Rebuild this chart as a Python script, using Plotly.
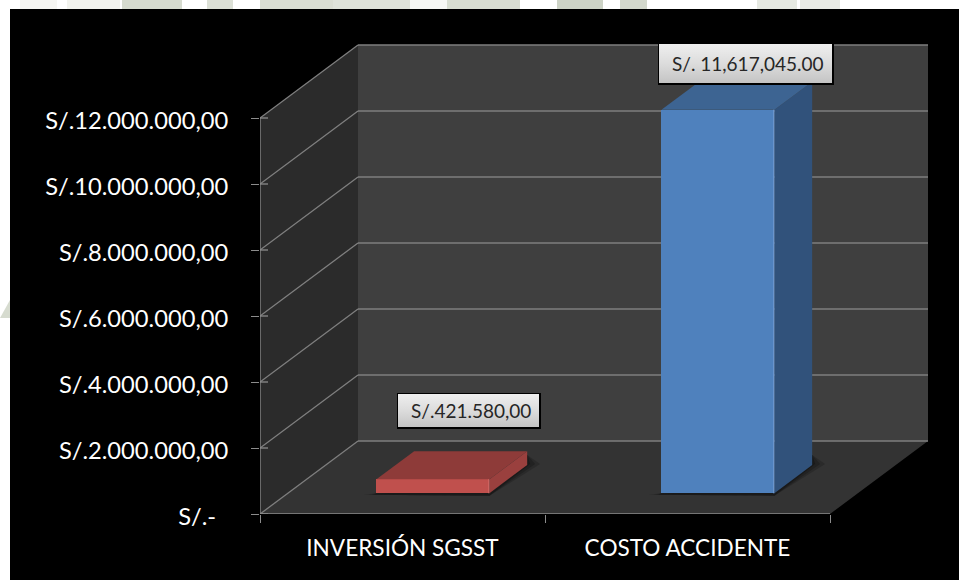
import plotly.graph_objects as go

# ---- data ----
categories = ["INVERSIÓN SGSST", "COSTO ACCIDENTE"]
values = [421580, 11617045]
value_labels = ["S/.421.580,00", "S/. 11,617,045.00"]
y_ticks = [0, 2e6, 4e6, 6e6, 8e6, 10e6, 12e6]
y_tick_labels = ["S/.-\u00a0\u00a0", "S/.2.000.000,00", "S/.4.000.000,00", "S/.6.000.000,00",
                 "S/.8.000.000,00", "S/.10.000.000,00", "S/.12.000.000,00"]
front_colors = ["#C0504D", "#4F81BD"]
side_colors = ["#9A403E", "#31527B"]
top_colors = ["#8E3B39", "#3D6492"]
edge_colors = ["#CC6360", "#6A95CC"]

# ---- geometry in data units ----
W, H = 959, 580
PX, PY = 285.0, 33.0 / 1e6      # px per category, px per value
L, B, T = 260, 514, 9
XMAX = (W - L) / PX
YMAX = (B - T) / PY
DX, DY = 98 / PX, 73 / PY       # wall depth
OFF = 0.285                     # bar front position within depth
BAR_D = 0.385                   # bar depth, fraction of wall depth
BAR_W = 113 / PX
BAR_SHIFT = 2.5 / PX

def xv(p): return (p - L) / PX
def yv(p): return (B - p) / PY
def xp(p): return (p - L) / (W - L)
def yp(p): return (B - p) / (B - T)

def poly(xs, ys, color):
    return go.Scatter(x=xs, y=ys, mode="lines", fill="toself", fillcolor=color,
                      line=dict(width=0), hoverinfo="skip", showlegend=False)

def path_shape(xs, ys, color):
    d = "M " + " L ".join(f"{a},{b}" for a, b in zip(xs, ys)) + " Z"
    return dict(type="path", xref="x", yref="y", path=d, fillcolor=color, line_width=0, layer="below")

def line_shape(a, b, c, d, color, width):
    return dict(type="line", xref="x", yref="y", x0=a, y0=b, x1=c, y1=d,
                line=dict(color=color, width=width), layer="below")

shapes = []
# white margin with pale watermark fragments, then black chart area
wm_top = [(20, 57, "#F6F6F3"), (67, 120, "#F2F3EE"), (122, 182, "#D6DBCF"), (207, 233, "#DCE0D6"),
          (260, 333, "#DADED3"), (333, 410, "#DFE3DA"), (410, 447, "#F6F7F4"), (447, 520, "#D8DDD1"),
          (557, 603, "#CDD3C6"), (620, 647, "#D3D8CC"), (757, 797, "#E6E9E2"), (800, 840, "#E8EAE4")]
for a, b, col in wm_top:
    shapes.append(dict(type="rect", xref="paper", yref="paper", x0=xp(a), x1=xp(b), y0=yp(T), y1=yp(0),
                       fillcolor=col, line_width=0, layer="below"))
shapes.append(dict(type="path", xref="paper", yref="paper",
                   path=f"M {xp(0)},{yp(318)} L {xp(10)},{yp(300)} L {xp(10)},{yp(318)} Z",
                   fillcolor="#D6DBCF", line_width=0, layer="below"))
shapes.append(dict(type="rect", xref="paper", yref="paper", x0=xp(10), x1=xp(W), y0=yp(H), y1=yp(T),
                   fillcolor="#000000", line_width=0, layer="below"))

# walls and floor
shapes.append(path_shape([0, DX, DX, 0], [0, DY, 12e6 + DY, 12e6], "#2B2B2B"))
shapes.append(path_shape([DX, 2 + DX, 2 + DX, DX], [DY, DY, 12e6 + DY, 12e6 + DY], "#3F3F3F"))
shapes.append(path_shape([0, 2, 2 + DX, DX], [0, 0, DY, DY], "#333333"))
# gridlines
for v in y_ticks:
    shapes.append(line_shape(0, v, DX, v + DY, "#7F7F7F", 1.3))
    shapes.append(line_shape(DX, v + DY, 2 + DX, v + DY, "#7F7F7F", 1.5))
    shapes.append(line_shape(0, v, 8 / PX, v, "#8C8C8C", 1.3))
# axis lines
shapes.append(line_shape(0, 0, 0, 12e6, "#8C8C8C", 1.3))
shapes.append(line_shape(0, 0, 2, 0, "#8C8C8C", 1.6))

# bars
cx = [0.5 + OFF * DX + BAR_SHIFT, 1.5 + OFF * DX + BAR_SHIFT]
x0 = [c - BAR_W / 2 for c in cx]
x1 = [c + BAR_W / 2 for c in cx]
by = OFF * DY
bdx, bdy = BAR_D * DX, BAR_D * DY
# soft floor shadows
for i in range(2):
    for grow, alpha in ((13, 0.22), (8, 0.3), (3, 0.4)):
        shapes.append(path_shape(
            [x0[i] - grow / PX, x1[i], x1[i] + bdx + grow / PX, x1[i] + bdx, x1[i], x0[i]],
            [by - 1.5 / PY, by - 2.5 / PY, by + bdy + 1 / PY, by + bdy + 10 / PY, by + 2 / PY, by],
            f"rgba(15,15,15,{alpha})"))

fig = go.Figure()
fig.add_trace(go.Bar(x=cx, y=values, base=[by, by], width=[BAR_W, BAR_W],
                     marker=dict(color=front_colors, line=dict(width=0)),
                     hoverinfo="skip", showlegend=False))
for i, v in enumerate(values):
    fig.add_trace(poly([x1[i], x1[i] + bdx, x1[i] + bdx, x1[i], x1[i]],
                       [by, by + bdy, by + bdy + v, by + v, by], side_colors[i]))
    fig.add_trace(poly([x0[i], x1[i], x1[i] + bdx, x0[i] + bdx, x0[i]],
                       [by + v, by + v, by + bdy + v, by + bdy + v, by + v], top_colors[i]))
    # lighter front edge
    fig.add_trace(go.Scatter(x=[x1[i] - 0.7 / PX, x1[i] - 0.7 / PX], y=[by, by + v], mode="lines",
                             line=dict(color=edge_colors[i], width=1.5), hoverinfo="skip", showlegend=False))

# value callouts (box gradient and drop shadow)
box_x = [(398, 539), (659, 832)]
box_y = [(394, 427), (44, 83)]
for i, ((a, b), (c, d)) in enumerate(zip(box_x, box_y)):
    fig.add_trace(poly([xv(a - 1), xv(b + 2), xv(b + 2), xv(a - 1), xv(a - 1)],
                       [yv(d + 2), yv(d + 2), yv(c - 1), yv(c - 1), yv(d + 2)], "#000000"))
    fig.add_trace(go.Scatter(x=[xv(a), xv(b), xv(b), xv(a), xv(a)], y=[yv(d), yv(d), yv(c), yv(c), yv(d)],
                             mode="lines", fill="toself", line=dict(width=0), hoverinfo="skip", showlegend=False,
                             fillgradient=dict(type="vertical",
                                               colorscale=[[0, "#C4C4C4"], [0.5, "#DCDCDC"], [1, "#EFEFEF"]])))
    fig.add_annotation(x=xv((a + b) / 2 + 2), y=yv((c + d) / 2), text=value_labels[i], showarrow=False,
                       font=dict(family="Lato", size=19, color="#262626"))

fig.update_layout(
    width=W, height=H, autosize=False, showlegend=False,
    margin=dict(l=L, r=0, t=T, b=H - B, pad=0),
    paper_bgcolor="#FFFFFF", plot_bgcolor="rgba(0,0,0,0)",
    font=dict(family="Lato", color="#FFFFFF"),
    shapes=shapes, bargap=0,
    xaxis=dict(range=[0, XMAX], tickmode="array", tickvals=[0.5, 1.5], ticktext=categories,
               ticks="", tickfont=dict(family="Lato", size=22.6, color="#FFFFFF"), ticklabelstandoff=18,
               showgrid=False, zeroline=False, showline=False,
               minor=dict(tickmode="array", tickvals=[0, 1, 2], ticks="outside", ticklen=8,
                          tickcolor="#8C8C8C", tickwidth=1.3, showgrid=False)),
    yaxis=dict(range=[0, YMAX], tickmode="array", tickvals=y_ticks, ticktext=y_tick_labels,
               ticks="outside", ticklen=8, tickcolor="#8C8C8C", tickwidth=1.3,
               tickfont=dict(family="Lato", size=23.7, color="#FFFFFF"), ticklabelstandoff=18,
               ticklabelshift=3,
               showgrid=False, zeroline=False, showline=False),
)

fig.write_html("out.html", config={"displayModeBar": False},
               post_script="document.body.style.margin='0';")
